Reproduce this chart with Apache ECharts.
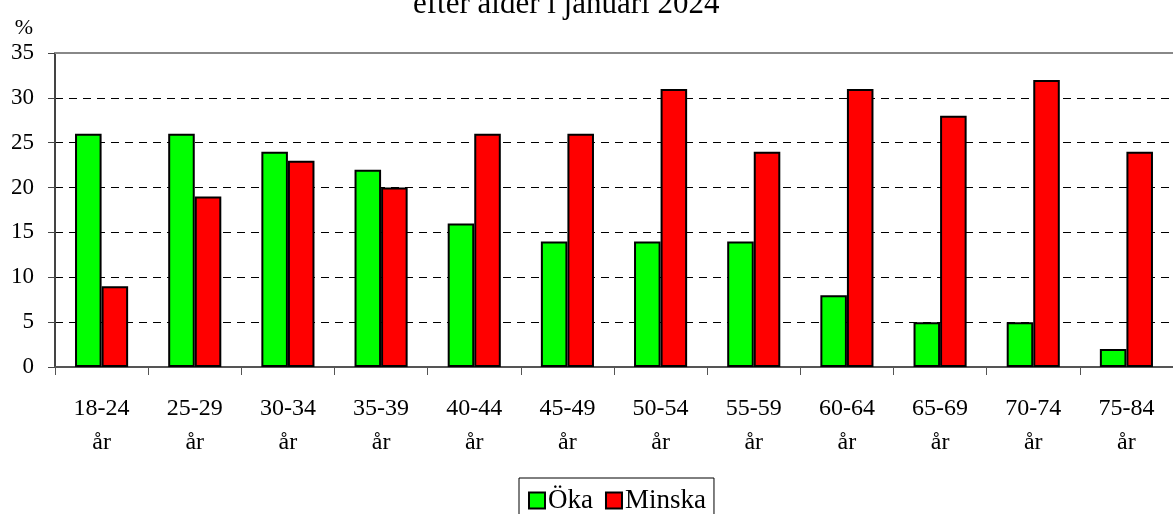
<!DOCTYPE html>
<html><head><meta charset="utf-8">
<script src="https://cdn.jsdelivr.net/npm/echarts@6/dist/echarts.min.js"></script>
<style>html,body{margin:0;padding:0;background:#fff}#c{width:1173px;height:514px}</style>
</head><body><div id="c"></div>
<script>
const categories = ['18-24\når','25-29\når','30-34\når','35-39\når','40-44\når','45-49\når','50-54\når','55-59\når','60-64\når','65-69\når','70-74\når','75-84\når'];
const oka = [26,26,24,22,16,14,14,14,8,5,5,2];
const minska = [9,19,23,20,26,26,31,24,31,28,32,24];
const titleText = 'efter ålder i januari 2024';
const unitLabel = '%';

const font = 'Liberation Serif';
const chart = echarts.init(document.getElementById('c'));
chart.setOption({
  animation: false,
  textStyle: {fontFamily: font},
  title: {text: titleText, left: 408, top: -16, textStyle: {fontFamily: font, fontSize: 31, fontWeight: 'normal', color: '#000'}},
  grid: {left: 55, right: 0, top: 53, bottom: 147, containLabel: false},
  legend: {
    data: ['Öka','Minska'], top: 478, left: 519,
    borderColor: '#000', borderWidth: 1, padding: [9, 8, 12, 9],
    itemWidth: 16, itemHeight: 16, itemGap: 12,
    icon: 'rect',
    textStyle: {fontFamily: font, fontSize: 27, color: '#000', padding: [0,0,0,-2]}
  },
  xAxis: [{
    type: 'category', data: categories,
    axisLine: {lineStyle: {color: '#555', width: 2}},
    axisTick: {show: true, length: 8, lineStyle: {color: '#555'}},
    axisLabel: {color: '#000', fontSize: 24, fontFamily: font, margin: 25, lineHeight: 34}
  },{
    type: 'category', position: 'top', data: categories,
    axisLine: {show: true, lineStyle: {color: '#888', width: 2}},
    axisTick: {show: false}, axisLabel: {show: false}
  }],
  yAxis: {
    type: 'value', min: 0, max: 35, interval: 5,
    name: unitLabel, nameGap: 14, nameLocation: 'end',
    nameTextStyle: {color: '#000', fontSize: 22, fontFamily: font, align: 'right', padding: [0, 22, 0, 0]},
    axisLine: {show: true, lineStyle: {color: '#444', width: 2}},
    axisTick: {show: true, length: 7, lineStyle: {color: '#444'}},
    axisLabel: {color: '#000', fontSize: 23, fontFamily: font, margin: 21},
    splitLine: {show: true, lineStyle: {color: '#000', type: [8, 6], width: 1}}
  },
  series: [
    {name: 'Öka', type: 'bar', data: oka, barGap: '0%', barCategoryGap: '43%',
     itemStyle: {color: '#00ff00', borderColor: '#000', borderWidth: 2}},
    {name: 'Minska', type: 'bar', data: minska,
     itemStyle: {color: '#ff0000', borderColor: '#000', borderWidth: 2}}
  ]
});
</script></body></html>
